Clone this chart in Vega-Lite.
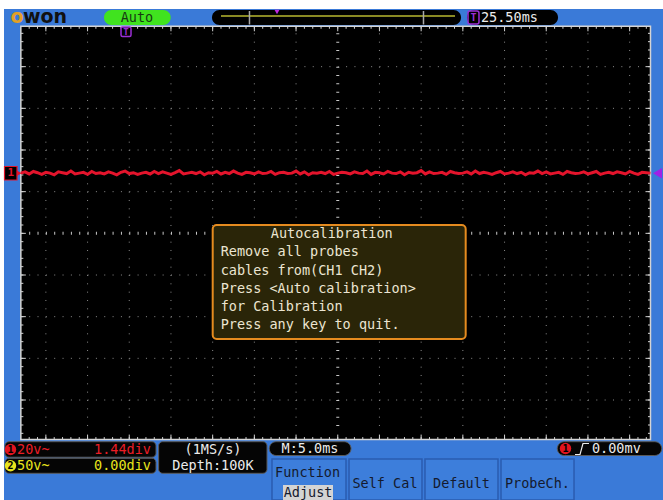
{
  "$schema": "https://vega.github.io/schema/vega-lite/v6.json",
  "width": 663,
  "height": 500,
  "autosize": {"type": "none"},
  "padding": 0,
  "background": "#ffffff",
  "config": {
    "view": {"stroke": null},
    "axis": {"disable": true},
    "legend": {"disable": true},
    "text": {"font": "DejaVu Sans Mono", "fontSize": 13.5, "baseline": "middle"}
  },
  "data": {"values": [{}]},
  "datasets": {
    "vgrid": [{"g": -7}, {"g": -6}, {"g": -5}, {"g": -4}, {"g": -3}, {"g": -2}, {"g": -1}, {"g": 1}, {"g": 2}, {"g": 3}, {"g": 4}, {"g": 5}, {"g": 6}, {"g": 7}],
    "hgrid": [{"g": -4}, {"g": -3}, {"g": -2}, {"g": -1}, {"g": 1}, {"g": 2}, {"g": 3}, {"g": 4}],
    "xmajor": [{"p": -7}, {"p": -6}, {"p": -5}, {"p": -4}, {"p": -3}, {"p": -2}, {"p": -1}, {"p": 0}, {"p": 1}, {"p": 2}, {"p": 3}, {"p": 4}, {"p": 5}, {"p": 6}, {"p": 7}],
    "ymajor": [{"p": -4}, {"p": -3}, {"p": -2}, {"p": -1}, {"p": 0}, {"p": 1}, {"p": 2}, {"p": 3}, {"p": 4}],
    "xminor": [{"p": -7.4}, {"p": -7.2}, {"p": -7.0}, {"p": -6.8}, {"p": -6.6}, {"p": -6.4}, {"p": -6.2}, {"p": -6.0}, {"p": -5.8}, {"p": -5.6}, {"p": -5.4}, {"p": -5.2}, {"p": -5.0}, {"p": -4.8}, {"p": -4.6}, {"p": -4.4}, {"p": -4.2}, {"p": -4.0}, {"p": -3.8}, {"p": -3.6}, {"p": -3.4}, {"p": -3.2}, {"p": -3.0}, {"p": -2.8}, {"p": -2.6}, {"p": -2.4}, {"p": -2.2}, {"p": -2.0}, {"p": -1.8}, {"p": -1.6}, {"p": -1.4}, {"p": -1.2}, {"p": -1.0}, {"p": -0.8}, {"p": -0.6}, {"p": -0.4}, {"p": -0.2}, {"p": 0.0}, {"p": 0.2}, {"p": 0.4}, {"p": 0.6}, {"p": 0.8}, {"p": 1.0}, {"p": 1.2}, {"p": 1.4}, {"p": 1.6}, {"p": 1.8}, {"p": 2.0}, {"p": 2.2}, {"p": 2.4}, {"p": 2.6}, {"p": 2.8}, {"p": 3.0}, {"p": 3.2}, {"p": 3.4}, {"p": 3.6}, {"p": 3.8}, {"p": 4.0}, {"p": 4.2}, {"p": 4.4}, {"p": 4.6}, {"p": 4.8}, {"p": 5.0}, {"p": 5.2}, {"p": 5.4}, {"p": 5.6}, {"p": 5.8}, {"p": 6.0}, {"p": 6.2}, {"p": 6.4}, {"p": 6.6}, {"p": 6.8}, {"p": 7.0}, {"p": 7.2}, {"p": 7.4}],
    "yminor": [{"p": -4.8}, {"p": -4.6}, {"p": -4.4}, {"p": -4.2}, {"p": -4.0}, {"p": -3.8}, {"p": -3.6}, {"p": -3.4}, {"p": -3.2}, {"p": -3.0}, {"p": -2.8}, {"p": -2.6}, {"p": -2.4}, {"p": -2.2}, {"p": -2.0}, {"p": -1.8}, {"p": -1.6}, {"p": -1.4}, {"p": -1.2}, {"p": -1.0}, {"p": -0.8}, {"p": -0.6}, {"p": -0.4}, {"p": -0.2}, {"p": 0.0}, {"p": 0.2}, {"p": 0.4}, {"p": 0.6}, {"p": 0.8}, {"p": 1.0}, {"p": 1.2}, {"p": 1.4}, {"p": 1.6}, {"p": 1.8}, {"p": 2.0}, {"p": 2.2}, {"p": 2.4}, {"p": 2.6}, {"p": 2.8}, {"p": 3.0}, {"p": 3.2}, {"p": 3.4}, {"p": 3.6}, {"p": 3.8}, {"p": 4.0}, {"p": 4.2}, {"p": 4.4}, {"p": 4.6}, {"p": 4.8}],
    "trace": [
      {"t": -7.6, "v": 1.445}, {"t": -7.5, "v": 1.475}, {"t": -7.4, "v": 1.425}, {"t": -7.3, "v": 1.485}, {"t": -7.2, "v": 1.455}, {"t": -7.1, "v": 1.415}, {"t": -7.0, "v": 1.465}, {"t": -6.9, "v": 1.445}, {"t": -6.8, "v": 1.405}, {"t": -6.7, "v": 1.475},
      {"t": -6.6, "v": 1.455}, {"t": -6.5, "v": 1.435}, {"t": -6.4, "v": 1.495}, {"t": -6.3, "v": 1.425}, {"t": -6.2, "v": 1.445}, {"t": -6.1, "v": 1.465}, {"t": -6.0, "v": 1.415}, {"t": -5.9, "v": 1.485}, {"t": -5.8, "v": 1.435}, {"t": -5.7, "v": 1.455},
      {"t": -5.6, "v": 1.425}, {"t": -5.5, "v": 1.475}, {"t": -5.4, "v": 1.445}, {"t": -5.3, "v": 1.405}, {"t": -5.2, "v": 1.465}, {"t": -5.1, "v": 1.495}, {"t": -5.0, "v": 1.435}, {"t": -4.9, "v": 1.455}, {"t": -4.8, "v": 1.415}, {"t": -4.7, "v": 1.445},
      {"t": -4.6, "v": 1.465}, {"t": -4.5, "v": 1.425}, {"t": -4.4, "v": 1.485}, {"t": -4.3, "v": 1.435}, {"t": -4.2, "v": 1.475}, {"t": -4.1, "v": 1.445}, {"t": -4.0, "v": 1.415}, {"t": -3.9, "v": 1.455}, {"t": -3.8, "v": 1.505}, {"t": -3.7, "v": 1.425},
      {"t": -3.6, "v": 1.445}, {"t": -3.5, "v": 1.465}, {"t": -3.4, "v": 1.435}, {"t": -3.3, "v": 1.475}, {"t": -3.2, "v": 1.405}, {"t": -3.1, "v": 1.455}, {"t": -3.0, "v": 1.445}, {"t": -2.9, "v": 1.485}, {"t": -2.8, "v": 1.425}, {"t": -2.7, "v": 1.465},
      {"t": -2.6, "v": 1.435}, {"t": -2.5, "v": 1.495}, {"t": -2.4, "v": 1.445}, {"t": -2.3, "v": 1.415}, {"t": -2.2, "v": 1.465}, {"t": -2.1, "v": 1.455}, {"t": -2.0, "v": 1.425}, {"t": -1.9, "v": 1.475}, {"t": -1.8, "v": 1.435}, {"t": -1.7, "v": 1.445},
      {"t": -1.6, "v": 1.485}, {"t": -1.5, "v": 1.415}, {"t": -1.4, "v": 1.455}, {"t": -1.3, "v": 1.465}, {"t": -1.2, "v": 1.435}, {"t": -1.1, "v": 1.445}, {"t": -1.0, "v": 1.495}, {"t": -0.9, "v": 1.425}, {"t": -0.8, "v": 1.475}, {"t": -0.7, "v": 1.405},
      {"t": -0.6, "v": 1.455}, {"t": -0.5, "v": 1.445}, {"t": -0.4, "v": 1.465}, {"t": -0.3, "v": 1.435}, {"t": -0.2, "v": 1.485}, {"t": -0.1, "v": 1.415}, {"t": 0.0, "v": 1.445}, {"t": 0.1, "v": 1.465}, {"t": 0.2, "v": 1.455}, {"t": 0.3, "v": 1.425},
      {"t": 0.4, "v": 1.475}, {"t": 0.5, "v": 1.445}, {"t": 0.6, "v": 1.435}, {"t": 0.7, "v": 1.495}, {"t": 0.8, "v": 1.415}, {"t": 0.9, "v": 1.465}, {"t": 1.0, "v": 1.455}, {"t": 1.1, "v": 1.425}, {"t": 1.2, "v": 1.485}, {"t": 1.3, "v": 1.445},
      {"t": 1.4, "v": 1.435}, {"t": 1.5, "v": 1.475}, {"t": 1.6, "v": 1.405}, {"t": 1.7, "v": 1.465}, {"t": 1.8, "v": 1.445}, {"t": 1.9, "v": 1.455}, {"t": 2.0, "v": 1.505}, {"t": 2.1, "v": 1.425}, {"t": 2.2, "v": 1.475}, {"t": 2.3, "v": 1.435},
      {"t": 2.4, "v": 1.445}, {"t": 2.5, "v": 1.465}, {"t": 2.6, "v": 1.415}, {"t": 2.7, "v": 1.485}, {"t": 2.8, "v": 1.455}, {"t": 2.9, "v": 1.435}, {"t": 3.0, "v": 1.445}, {"t": 3.1, "v": 1.475}, {"t": 3.2, "v": 1.425}, {"t": 3.3, "v": 1.495},
      {"t": 3.4, "v": 1.435}, {"t": 3.5, "v": 1.465}, {"t": 3.6, "v": 1.445}, {"t": 3.7, "v": 1.415}, {"t": 3.8, "v": 1.455}, {"t": 3.9, "v": 1.485}, {"t": 4.0, "v": 1.425}, {"t": 4.1, "v": 1.445}, {"t": 4.2, "v": 1.475}, {"t": 4.3, "v": 1.435},
      {"t": 4.4, "v": 1.465}, {"t": 4.5, "v": 1.405}, {"t": 4.6, "v": 1.455}, {"t": 4.7, "v": 1.445}, {"t": 4.8, "v": 1.495}, {"t": 4.9, "v": 1.435}, {"t": 5.0, "v": 1.475}, {"t": 5.1, "v": 1.425}, {"t": 5.2, "v": 1.445}, {"t": 5.3, "v": 1.465},
      {"t": 5.4, "v": 1.415}, {"t": 5.5, "v": 1.485}, {"t": 5.6, "v": 1.455}, {"t": 5.7, "v": 1.435}, {"t": 5.8, "v": 1.445}, {"t": 5.9, "v": 1.475}, {"t": 6.0, "v": 1.425}, {"t": 6.1, "v": 1.455}, {"t": 6.2, "v": 1.485}, {"t": 6.3, "v": 1.415},
      {"t": 6.4, "v": 1.445}, {"t": 6.5, "v": 1.465}, {"t": 6.6, "v": 1.435}, {"t": 6.7, "v": 1.475}, {"t": 6.8, "v": 1.455}, {"t": 6.9, "v": 1.425}, {"t": 7.0, "v": 1.485}, {"t": 7.1, "v": 1.445}, {"t": 7.2, "v": 1.415}, {"t": 7.3, "v": 1.465},
      {"t": 7.4, "v": 1.455}, {"t": 7.5, "v": 1.445}
    ],
    "edge": [{"ex": 5.69, "ey": -5.308}, {"ex": 5.81, "ey": -5.308}, {"ex": 5.881, "ey": -5.044}, {"ex": 6.025, "ey": -5.044}]
  },
  "layer": [
    {"mark": {"type": "rect", "fill": "#3a7ad8"}, "encoding": {"x": {"datum": -8.004, "type": "quantitative", "scale": {"domain": [-8.1, 7.8], "nice": false, "zero": false}}, "x2": {"datum": 7.8}, "y": {"datum": -6.4, "type": "quantitative", "scale": {"domain": [-6.4, 5.6], "nice": false, "zero": false}}, "y2": {"datum": 5.384}}},
    {"mark": {"type": "rect", "fill": "#000000", "stroke": "#d4d4d4", "strokeWidth": 1.5}, "encoding": {"x": {"datum": -7.6}, "x2": {"datum": 7.5}, "y": {"datum": -4.95}, "y2": {"datum": 4.97}}},
    {"data": {"name": "vgrid"}, "mark": {"type": "rule", "color": "#8a8a8a", "strokeWidth": 1, "strokeDash": [1, 7.333]}, "encoding": {"x": {"field": "g", "type": "quantitative"}, "y": {"datum": 4.8}, "y2": {"datum": -4.8}}},
    {"data": {"name": "hgrid"}, "mark": {"type": "rule", "color": "#8a8a8a", "strokeWidth": 1, "strokeDash": [1, 7.34]}, "encoding": {"y": {"field": "g", "type": "quantitative"}, "x": {"datum": -7.4}, "x2": {"datum": 7.4}}},
    {"mark": {"type": "rule", "color": "#c8c8c8", "strokeWidth": 3, "strokeDash": [1, 7.333]}, "encoding": {"x": {"datum": 0}, "y": {"datum": 4.8}, "y2": {"datum": -4.8}}},
    {"mark": {"type": "rule", "color": "#c8c8c8", "strokeWidth": 3, "strokeDash": [1, 7.34]}, "encoding": {"y": {"datum": 0}, "x": {"datum": -7.4}, "x2": {"datum": 7.4}}},
    {"data": {"name": "xminor"}, "mark": {"type": "rule", "color": "#d4d4d4", "strokeWidth": 1}, "encoding": {"x": {"field": "p", "type": "quantitative"}, "y": {"datum": 4.97}, "y2": {"datum": 4.91}}},
    {"data": {"name": "xmajor"}, "mark": {"type": "rule", "color": "#d4d4d4", "strokeWidth": 1}, "encoding": {"x": {"field": "p", "type": "quantitative"}, "y": {"datum": 4.97}, "y2": {"datum": 4.85}}},
    {"data": {"name": "xminor"}, "mark": {"type": "rule", "color": "#d4d4d4", "strokeWidth": 1}, "encoding": {"x": {"field": "p", "type": "quantitative"}, "y": {"datum": -4.95}, "y2": {"datum": -4.89}}},
    {"data": {"name": "xmajor"}, "mark": {"type": "rule", "color": "#d4d4d4", "strokeWidth": 1}, "encoding": {"x": {"field": "p", "type": "quantitative"}, "y": {"datum": -4.95}, "y2": {"datum": -4.83}}},
    {"data": {"name": "yminor"}, "mark": {"type": "rule", "color": "#d4d4d4", "strokeWidth": 1}, "encoding": {"y": {"field": "p", "type": "quantitative"}, "x": {"datum": -7.6}, "x2": {"datum": -7.54}}},
    {"data": {"name": "ymajor"}, "mark": {"type": "rule", "color": "#d4d4d4", "strokeWidth": 1}, "encoding": {"y": {"field": "p", "type": "quantitative"}, "x": {"datum": -7.6}, "x2": {"datum": -7.48}}},
    {"data": {"name": "yminor"}, "mark": {"type": "rule", "color": "#d4d4d4", "strokeWidth": 1}, "encoding": {"y": {"field": "p", "type": "quantitative"}, "x": {"datum": 7.5}, "x2": {"datum": 7.44}}},
    {"data": {"name": "ymajor"}, "mark": {"type": "rule", "color": "#d4d4d4", "strokeWidth": 1}, "encoding": {"y": {"field": "p", "type": "quantitative"}, "x": {"datum": 7.5}, "x2": {"datum": 7.38}}},
    {"data": {"name": "trace"}, "mark": {"type": "line", "color": "#e4142c", "strokeWidth": 3}, "encoding": {"x": {"field": "t", "type": "quantitative"}, "y": {"field": "v", "type": "quantitative"}}},
    {"mark": {"type": "rect", "fill": "#000000", "stroke": "#e2142c", "strokeWidth": 1.2}, "encoding": {"x": {"datum": -7.992}, "x2": {"datum": -7.692}, "y": {"datum": 1.28}, "y2": {"datum": 1.604}}},
    {"mark": {"type": "point", "shape": "triangle-right", "filled": true, "color": "#e2142c", "opacity": 1, "size": 30}, "encoding": {"x": {"datum": -7.64}, "y": {"datum": 1.442}}},
    {"mark": {"type": "text", "fontWeight": "bold", "fontSize": 11, "color": "#e2142c", "align": "center"}, "encoding": {"x": {"datum": -7.842}, "y": {"datum": 1.442}, "text": {"value": "1"}}},
    {"mark": {"type": "point", "shape": "triangle-left", "filled": true, "color": "#a020e8", "opacity": 1, "size": 110}, "encoding": {"x": {"datum": 7.668}, "y": {"datum": 1.442}}},
    {"mark": {"type": "rect", "fill": "#2a2508", "stroke": "#e58b1f", "strokeWidth": 2, "cornerRadius": 4}, "encoding": {"x": {"datum": -2.999}, "x2": {"datum": 3.068}, "y": {"datum": -2.536}, "y2": {"datum": 0.2}}},
    {"mark": {"type": "text", "color": "#ece6d2", "align": "center"}, "encoding": {"x": {"datum": -0.145}, "y": {"datum": -0.016}, "text": {"value": "Autocalibration"}}},
    {"mark": {"type": "text", "color": "#ece6d2", "align": "left"}, "encoding": {"x": {"datum": -2.807}, "y": {"datum": -0.455}, "text": {"value": "Remove all probes"}}},
    {"mark": {"type": "text", "color": "#ece6d2", "align": "left"}, "encoding": {"x": {"datum": -2.807}, "y": {"datum": -0.892}, "text": {"value": "cables from(CH1 CH2)"}}},
    {"mark": {"type": "text", "color": "#ece6d2", "align": "left"}, "encoding": {"x": {"datum": -2.807}, "y": {"datum": -1.331}, "text": {"value": "Press <Auto calibration>"}}},
    {"mark": {"type": "text", "color": "#ece6d2", "align": "left"}, "encoding": {"x": {"datum": -2.807}, "y": {"datum": -1.768}, "text": {"value": "for Calibration"}}},
    {"mark": {"type": "text", "color": "#ece6d2", "align": "left"}, "encoding": {"x": {"datum": -2.807}, "y": {"datum": -2.207}, "text": {"value": "Press any key to quit."}}},
    {"mark": {"type": "rect", "fill": "#000000", "cornerRadius": 7.5}, "encoding": {"x": {"datum": -3.016}, "x2": {"datum": 2.956}, "y": {"datum": 5.0}, "y2": {"datum": 5.36}}},
    {"mark": {"type": "rule", "color": "#8a8a24", "strokeWidth": 2}, "encoding": {"x": {"datum": -2.8}, "x2": {"datum": 2.812}, "y": {"datum": 5.216}}},
    {"mark": {"type": "rule", "color": "#a8a8a8", "strokeWidth": 1.5}, "encoding": {"x": {"datum": -2.117}, "y": {"datum": 5.012}, "y2": {"datum": 5.336}}},
    {"mark": {"type": "rule", "color": "#a8a8a8", "strokeWidth": 1.5}, "encoding": {"x": {"datum": 2.056}, "y": {"datum": 5.012}, "y2": {"datum": 5.336}}},
    {"mark": {"type": "point", "shape": "triangle-down", "filled": true, "color": "#c028e0", "opacity": 1, "size": 25}, "encoding": {"x": {"datum": -1.457}, "y": {"datum": 5.312}}},
    {"mark": {"type": "rect", "fill": "#000000", "cornerRadius": 7.5}, "encoding": {"x": {"datum": 3.1}, "x2": {"datum": 5.282}, "y": {"datum": 5.0}, "y2": {"datum": 5.36}}},
    {"mark": {"type": "rect", "fill": "#000000", "stroke": "#9b2fd6", "strokeWidth": 1.5, "cornerRadius": 2}, "encoding": {"x": {"datum": 3.124}, "x2": {"datum": 3.387}, "y": {"datum": 5.024}, "y2": {"datum": 5.336}}},
    {"mark": {"type": "text", "fontWeight": "bold", "fontSize": 10, "color": "#9b2fd6", "align": "center"}, "encoding": {"x": {"datum": 3.256}, "y": {"datum": 5.18}, "text": {"value": "T"}}},
    {"mark": {"type": "text", "color": "#ebebeb", "align": "left"}, "encoding": {"x": {"datum": 3.435}, "y": {"datum": 5.18}, "text": {"value": "25.50ms"}}},
    {"mark": {"type": "rect", "fill": "#40e31f", "cornerRadius": 7.5}, "encoding": {"x": {"datum": -5.606}, "x2": {"datum": -4.006}, "y": {"datum": 5.0}, "y2": {"datum": 5.36}}},
    {"mark": {"type": "text", "color": "#173a12", "align": "center"}, "encoding": {"x": {"datum": -4.815}, "y": {"datum": 5.18}, "text": {"value": "Auto"}}},
    {"mark": {"type": "text", "font": "DejaVu Sans", "fontWeight": "bold", "fontSize": 19, "color": "#e3a025", "align": "left", "baseline": "alphabetic"}, "encoding": {"x": {"datum": -7.85}, "y": {"datum": 5.055}, "text": {"value": "o"}}},
    {"mark": {"type": "text", "font": "DejaVu Sans", "fontWeight": "bold", "fontSize": 19, "color": "#111111", "align": "left", "baseline": "alphabetic"}, "encoding": {"x": {"datum": -7.55}, "y": {"datum": 5.055}, "text": {"value": "won"}}},
    {"mark": {"type": "rect", "fill": "#000000", "stroke": "#9b2fd6", "strokeWidth": 1.5, "cornerRadius": 1.5}, "encoding": {"x": {"datum": -5.198}, "x2": {"datum": -4.958}, "y": {"datum": 4.724}, "y2": {"datum": 4.952}}},
    {"mark": {"type": "text", "fontWeight": "bold", "fontSize": 9, "color": "#9b2fd6", "align": "center"}, "encoding": {"x": {"datum": -5.078}, "y": {"datum": 4.844}, "text": {"value": "T"}}},
    {"mark": {"type": "rect", "fill": "#050505", "stroke": "#5a5a5a", "strokeWidth": 1, "cornerRadius": 4}, "encoding": {"x": {"datum": -7.98}, "x2": {"datum": -4.359}, "y": {"datum": -5.373}, "y2": {"datum": -5.001}}},
    {"mark": {"type": "rect", "fill": "#050505", "stroke": "#5a5a5a", "strokeWidth": 1, "cornerRadius": 4}, "encoding": {"x": {"datum": -7.98}, "x2": {"datum": -4.359}, "y": {"datum": -5.759}, "y2": {"datum": -5.399}}},
    {"mark": {"type": "rect", "fill": "#050505", "stroke": "#5a5a5a", "strokeWidth": 1, "cornerRadius": 4}, "encoding": {"x": {"datum": -4.296}, "x2": {"datum": -1.697}, "y": {"datum": -5.759}, "y2": {"datum": -5.001}}},
    {"mark": {"type": "rect", "fill": "#050505", "stroke": "#5a5a5a", "strokeWidth": 1, "cornerRadius": 7}, "encoding": {"x": {"datum": -1.642}, "x2": {"datum": 0.318}, "y": {"datum": -5.332}, "y2": {"datum": -5.001}}},
    {"mark": {"type": "rect", "fill": "#050505", "stroke": "#5a5a5a", "strokeWidth": 1, "cornerRadius": 7}, "encoding": {"x": {"datum": 5.265}, "x2": {"datum": 7.769}, "y": {"datum": -5.332}, "y2": {"datum": -5.001}}},
    {"mark": {"type": "circle", "color": "#e2141e", "opacity": 1, "size": 130}, "encoding": {"x": {"datum": -7.848}, "y": {"datum": -5.188}}},
    {"mark": {"type": "circle", "color": "#e8e41c", "opacity": 1, "size": 130}, "encoding": {"x": {"datum": -7.848}, "y": {"datum": -5.579}}},
    {"mark": {"type": "circle", "color": "#e2141e", "opacity": 1, "size": 130}, "encoding": {"x": {"datum": 5.462}, "y": {"datum": -5.164}}},
    {"mark": {"type": "text", "fontWeight": "bold", "fontSize": 10, "color": "#000000", "align": "center"}, "encoding": {"x": {"datum": -7.848}, "y": {"datum": -5.188}, "text": {"value": "1"}}},
    {"mark": {"type": "text", "fontWeight": "bold", "fontSize": 10, "color": "#000000", "align": "center"}, "encoding": {"x": {"datum": -7.848}, "y": {"datum": -5.579}, "text": {"value": "2"}}},
    {"mark": {"type": "text", "fontWeight": "bold", "fontSize": 10, "color": "#000000", "align": "center"}, "encoding": {"x": {"datum": 5.462}, "y": {"datum": -5.164}, "text": {"value": "1"}}},
    {"mark": {"type": "text", "color": "#ea1d25", "align": "left"}, "encoding": {"x": {"datum": -7.692}, "y": {"datum": -5.188}, "text": {"value": "20v~"}}},
    {"mark": {"type": "text", "color": "#ea1d25", "align": "right"}, "encoding": {"x": {"datum": -4.479}, "y": {"datum": -5.188}, "text": {"value": "1.44div"}}},
    {"mark": {"type": "text", "color": "#e8e41c", "align": "left"}, "encoding": {"x": {"datum": -7.692}, "y": {"datum": -5.579}, "text": {"value": "50v~"}}},
    {"mark": {"type": "text", "color": "#e8e41c", "align": "right"}, "encoding": {"x": {"datum": -4.479}, "y": {"datum": -5.579}, "text": {"value": "0.00div"}}},
    {"mark": {"type": "text", "color": "#ebebeb", "align": "center"}, "encoding": {"x": {"datum": -2.992}, "y": {"datum": -5.188}, "text": {"value": "(1MS/s)"}}},
    {"mark": {"type": "text", "color": "#ebebeb", "align": "center"}, "encoding": {"x": {"datum": -2.992}, "y": {"datum": -5.584}, "text": {"value": "Depth:100K"}}},
    {"mark": {"type": "text", "color": "#ebebeb", "align": "center"}, "encoding": {"x": {"datum": -0.666}, "y": {"datum": -5.164}, "text": {"value": "M:5.0ms"}}},
    {"data": {"name": "edge"}, "mark": {"type": "line", "color": "#ebebeb", "strokeWidth": 1.2}, "encoding": {"x": {"field": "ex", "type": "quantitative"}, "y": {"field": "ey", "type": "quantitative"}}},
    {"mark": {"type": "text", "color": "#ebebeb", "align": "left"}, "encoding": {"x": {"datum": 6.097}, "y": {"datum": -5.164}, "text": {"value": "0.00mv"}}},
    {"mark": {"type": "rect", "fill": "#3d7edb", "stroke": "#2a5cb0", "strokeWidth": 1.5}, "encoding": {"x": {"datum": -1.577}, "x2": {"datum": 0.198}, "y": {"datum": -6.4}, "y2": {"datum": -5.416}}},
    {"mark": {"type": "rect", "fill": "#3d7edb", "stroke": "#2a5cb0", "strokeWidth": 1.5}, "encoding": {"x": {"datum": 0.27}, "x2": {"datum": 2.02}, "y": {"datum": -6.4}, "y2": {"datum": -5.416}}},
    {"mark": {"type": "rect", "fill": "#3d7edb", "stroke": "#2a5cb0", "strokeWidth": 1.5}, "encoding": {"x": {"datum": 2.092}, "x2": {"datum": 3.843}, "y": {"datum": -6.4}, "y2": {"datum": -5.416}}},
    {"mark": {"type": "rect", "fill": "#3d7edb", "stroke": "#2a5cb0", "strokeWidth": 1.5}, "encoding": {"x": {"datum": 3.915}, "x2": {"datum": 5.666}, "y": {"datum": -6.4}, "y2": {"datum": -5.416}}},
    {"mark": {"type": "rect", "fill": "#d4d4d4"}, "encoding": {"x": {"datum": -1.313}, "x2": {"datum": -0.114}, "y": {"datum": -6.4}, "y2": {"datum": -6.04}}},
    {"mark": {"type": "text", "color": "#141a2e", "align": "center"}, "encoding": {"x": {"datum": -0.723}, "y": {"datum": -5.759}, "text": {"value": "Function"}}},
    {"mark": {"type": "text", "color": "#141a2e", "align": "center"}, "encoding": {"x": {"datum": -0.713}, "y": {"datum": -6.232}, "text": {"value": "Adjust"}}},
    {"mark": {"type": "text", "color": "#141a2e", "align": "center"}, "encoding": {"x": {"datum": 1.133}, "y": {"datum": -6.004}, "text": {"value": "Self Cal"}}},
    {"mark": {"type": "text", "color": "#141a2e", "align": "center"}, "encoding": {"x": {"datum": 2.968}, "y": {"datum": -6.004}, "text": {"value": "Default"}}},
    {"mark": {"type": "text", "color": "#141a2e", "align": "center"}, "encoding": {"x": {"datum": 4.79}, "y": {"datum": -6.004}, "text": {"value": "ProbeCh."}}}
  ]
}
